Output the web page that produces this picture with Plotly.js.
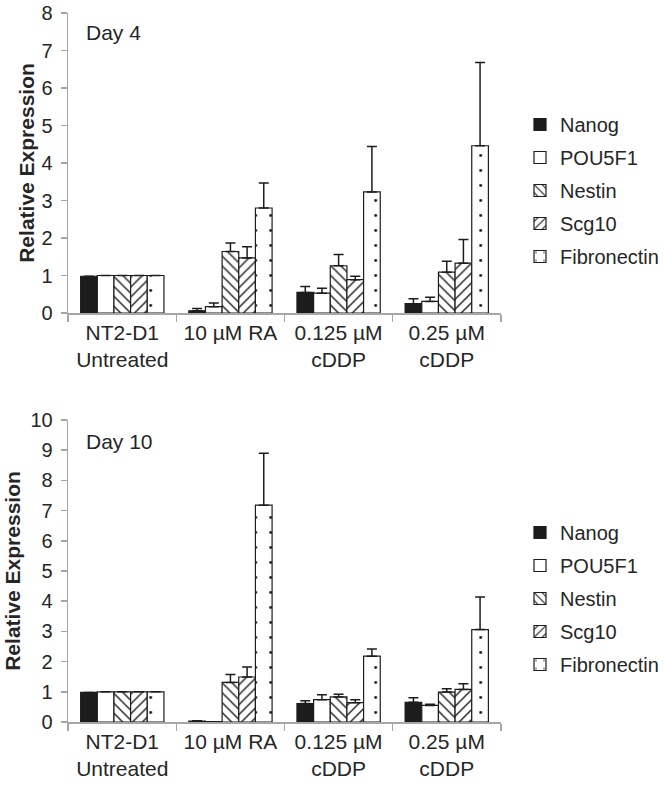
<!DOCTYPE html>
<html><head><meta charset="utf-8">
<script src="https://cdn.plot.ly/plotly-3.0.1.min.js"></script>
<style>html,body{margin:0;padding:0;background:#fff}#chart{width:664px;height:791px}</style>
</head><body><div id="chart"></div>
<script>
const categories = ["NT2-D1<br>Untreated", "10 µM RA", "0.125 µM<br>cDDP", "0.25 µM<br>cDDP"];
const genes = ["Nanog", "POU5F1", "Nestin", "Scg10", "Fibronectin"];

// Day 4
const day4_Nanog       = [0.98, 0.06, 0.55, 0.25];
const day4_POU5F1      = [1.00, 0.17, 0.53, 0.31];
const day4_Nestin      = [1.00, 1.64, 1.26, 1.09];
const day4_Scg10       = [1.00, 1.47, 0.89, 1.33];
const day4_Fibronectin = [1.00, 2.80, 3.23, 4.46];
const day4_err_Nanog       = [0.00, 0.06, 0.16, 0.13];
const day4_err_POU5F1      = [0.00, 0.10, 0.13, 0.11];
const day4_err_Nestin      = [0.00, 0.23, 0.30, 0.29];
const day4_err_Scg10       = [0.00, 0.30, 0.09, 0.63];
const day4_err_Fibronectin = [0.00, 0.67, 1.21, 2.22];

// Day 10
const day10_Nanog       = [0.98, 0.03, 0.61, 0.65];
const day10_POU5F1      = [1.00, 0.01, 0.74, 0.55];
const day10_Nestin      = [1.00, 1.31, 0.83, 0.99];
const day10_Scg10       = [1.00, 1.49, 0.64, 1.08];
const day10_Fibronectin = [1.00, 7.18, 2.18, 3.06];
const day10_err_Nanog       = [0.00, 0.01, 0.09, 0.15];
const day10_err_POU5F1      = [0.00, 0.00, 0.16, 0.04];
const day10_err_Nestin      = [0.00, 0.26, 0.09, 0.11];
const day10_err_Scg10       = [0.00, 0.33, 0.10, 0.19];
const day10_err_Fibronectin = [0.00, 1.72, 0.24, 1.08];

const day4 = [day4_Nanog, day4_POU5F1, day4_Nestin, day4_Scg10, day4_Fibronectin];
const day4err = [day4_err_Nanog, day4_err_POU5F1, day4_err_Nestin, day4_err_Scg10, day4_err_Fibronectin];
const day10 = [day10_Nanog, day10_POU5F1, day10_Nestin, day10_Scg10, day10_Fibronectin];
const day10err = [day10_err_Nanog, day10_err_POU5F1, day10_err_Nestin, day10_err_Scg10, day10_err_Fibronectin];

const ink = '#1c1c1c';
const markers = [
  {color: ink, line: {color: ink, width: 1.2}},
  {color: '#ffffff', line: {color: ink, width: 1.2}},
  {color: '#ffffff', line: {color: ink, width: 1.2}, pattern: {shape: '\\', fgcolor: ink, bgcolor: '#ffffff', size: 7, solidity: 0.2}},
  {color: '#ffffff', line: {color: ink, width: 1.2}, pattern: {shape: '/', fgcolor: ink, bgcolor: '#ffffff', size: 7, solidity: 0.2}},
  {color: '#ffffff', line: {color: ink, width: 1.2}, pattern: {shape: '.', fgcolor: ink, bgcolor: '#ffffff', size: 15, solidity: 0.03}}
];

const traces = [];
function addSet(vals, errs, xa, ya, leg, grpSuffix) {
  genes.forEach((g, i) => {
    traces.push({
      type: 'bar', name: g, x: categories, y: vals[i],
      xaxis: xa, yaxis: ya, legend: leg, legendgroup: g + grpSuffix,
      marker: markers[i],
      error_y: {type: 'data', array: errs[i], arrayminus: errs[i].map(() => 0), symmetric: false,
                color: ink, thickness: 1.5, width: 5, visible: true},
      hoverinfo: 'skip'
    });
  });
}
addSet(day4, day4err, 'x', 'y', 'legend', 'a');
addSet(day10, day10err, 'x2', 'y2', 'legend2', 'b');

const H = 791, W = 664;
const fontFam = '"Liberation Sans", Arial, sans-serif';
const txt = '#262626';
const axisGrey = '#a6a6a6';
function xAxis(anchor) {
  return {domain: [70 / W, 514 / W], anchor: anchor, type: 'category',
    showline: true, linecolor: axisGrey, linewidth: 1.5,
    ticks: 'outside', tickson: 'boundaries', ticklen: 7, tickcolor: axisGrey, tickwidth: 1.5,
    tickfont: {family: fontFam, size: 21, color: txt}, showgrid: false, zeroline: false, fixedrange: true};
}
function yAxis(anchor, dom, rng, dt, so) {
  return {domain: dom, anchor: anchor, range: rng, dtick: dt,
    showline: true, linecolor: axisGrey, linewidth: 1.5,
    ticks: 'outside', ticklen: 6, tickcolor: axisGrey, tickwidth: 1.5, ticklabelstandoff: 4,
    tickfont: {family: fontFam, size: 20, color: txt}, showgrid: false, zeroline: false,
    title: {text: 'Relative Expression', font: {family: fontFam, size: 21, color: txt, weight: 'bold'}, standoff: so},
    fixedrange: true};
}

const legendBase = {
  font: {family: fontFam, size: 20, color: txt}, bgcolor: 'rgba(0,0,0,0)',
  xanchor: 'left', yanchor: 'top', tracegroupgap: 4, itemwidth: 30, traceorder: 'grouped'
};

const layout = {
  width: W, height: H,
  margin: {l: 0, r: 0, t: 0, b: 0},
  paper_bgcolor: '#ffffff', plot_bgcolor: '#ffffff',
  barmode: 'group', bargap: 0.23, bargroupgap: 0,
  showlegend: true,
  xaxis: xAxis('y'),
  yaxis: yAxis('x', [1 - 313 / H, 1 - 13 / H], [0, 8], 1, 1),
  xaxis2: xAxis('y2'),
  yaxis2: yAxis('x2', [1 - 722 / H, 1 - 420 / H], [0, 10], 1, 4),
  legend: Object.assign({}, legendBase, {x: 534 / W, y: 1 - 105 / H}),
  legend2: Object.assign({}, legendBase, {x: 534 / W, y: 1 - 513 / H}),
  annotations: [
    {text: 'Day 4', x: 86 / W, y: 1 - 33 / H, xref: 'paper', yref: 'paper', xanchor: 'left', yanchor: 'middle',
     showarrow: false, font: {family: fontFam, size: 21, color: txt}},
    {text: 'Day 10', x: 86 / W, y: 1 - 441 / H, xref: 'paper', yref: 'paper', xanchor: 'left', yanchor: 'middle',
     showarrow: false, font: {family: fontFam, size: 21, color: txt}}
  ]
};

Plotly.newPlot('chart', traces, layout, {displayModeBar: false, staticPlot: true});
</script></body></html>
